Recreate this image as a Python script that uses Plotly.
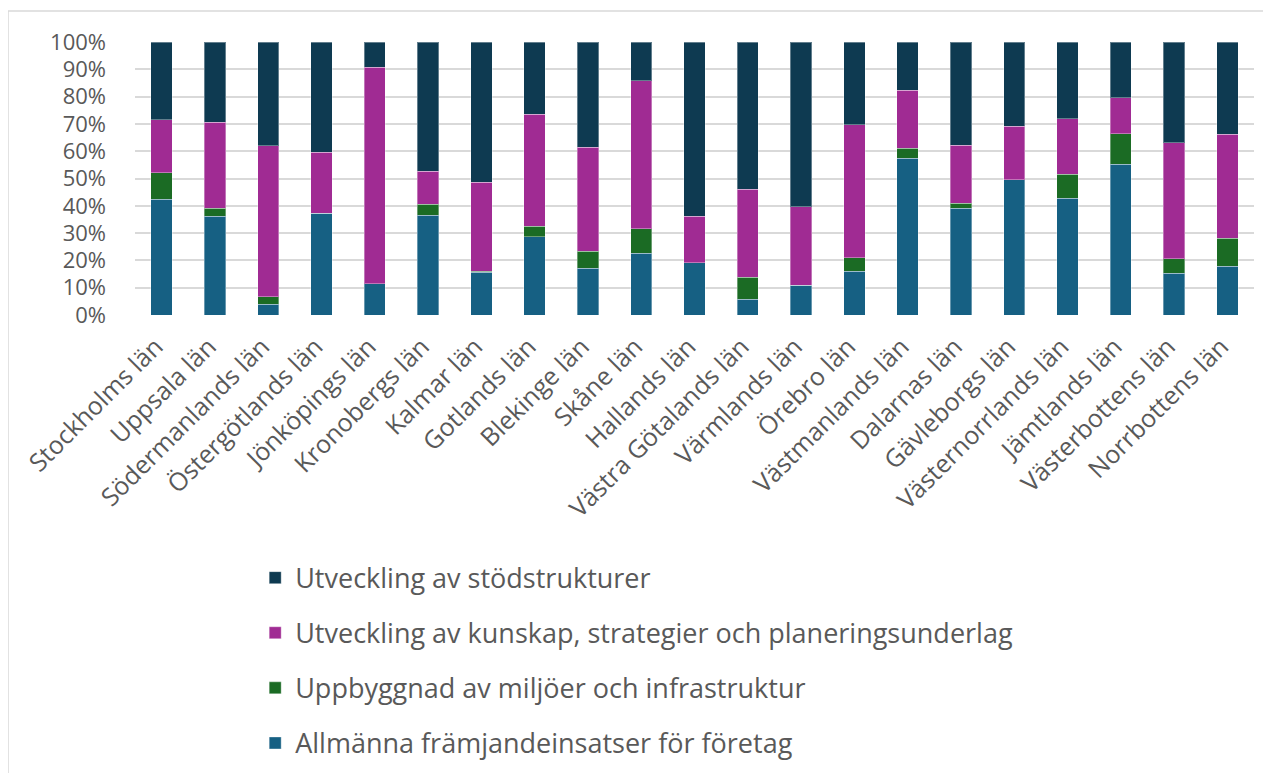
import plotly.graph_objects as go

categories = ["Stockholms län", "Uppsala län", "Södermanlands län", "Östergötlands län",
              "Jönköpings län", "Kronobergs län", "Kalmar län", "Gotlands län",
              "Blekinge län", "Skåne län", "Hallands län", "Västra Götalands län",
              "Värmlands län", "Örebro län", "Västmanlands län", "Dalarnas län",
              "Gävleborgs län", "Västernorrlands län", "Jämtlands län",
              "Västerbottens län", "Norrbottens län"]

# shares in percent
allmanna = [42.4, 36.1, 3.9, 37.2, 11.5, 36.6, 15.6, 28.7, 17.2, 22.7, 19.2,
            5.7, 10.9, 16.0, 57.4, 39.1, 49.5, 42.7, 55.3, 15.3, 17.8]
uppbyggnad = [9.7, 3.0, 2.8, 0.0, 0.0, 3.9, 0.5, 3.8, 6.1, 8.9, 0.0,
              8.1, 0.0, 5.0, 3.7, 1.8, 0.0, 8.8, 11.1, 5.3, 10.3]
kunskap = [19.4, 31.5, 55.3, 22.4, 79.3, 12.2, 32.6, 41.1, 38.2, 54.2, 16.9,
           32.2, 28.7, 48.6, 21.2, 21.2, 19.6, 20.3, 13.1, 42.5, 38.1]
stod = [28.5, 29.4, 38.0, 40.4, 9.2, 47.3, 51.3, 26.4, 38.5, 14.2, 63.9,
        54.0, 60.4, 30.4, 17.7, 37.9, 30.9, 28.2, 20.5, 36.9, 33.8]

series_names = ["Allmänna främjandeinsatser för företag",
                "Uppbyggnad av miljöer och infrastruktur",
                "Utveckling av kunskap, strategier och planeringsunderlag",
                "Utveckling av stödstrukturer"]
series_values = [allmanna, uppbyggnad, kunskap, stod]
series_colors = ["#166083", "#1B6B24", "#A02B93", "#0E3A51"]
legend_ranks = [4, 3, 2, 1]

FONT = "Open Sans"
TXT = "#595959"

fig = go.Figure()
for i, (name, vals, col, rk) in enumerate(zip(series_names, series_values,
                                               series_colors, legend_ranks)):
    fig.add_trace(go.Bar(
        x=categories, y=[v / 100 for v in vals], name=name,
        marker=dict(color=col, line=dict(color="rgba(255,255,255,0.35)", width=1)),
        legendgroup=f"g{i}", legendrank=rk,
    ))

fig.update_layout(
    width=1271, height=773,
    barmode="stack",
    bargap=0.6,
    paper_bgcolor="white", plot_bgcolor="white",
    margin=dict(l=127, r=25, t=34, b=466, autoexpand=False),
    font=dict(family=FONT, color=TXT),
    showlegend=True,
    legend=dict(
        orientation="v", traceorder="grouped",
        x=0.1074, xanchor="left", y=-0.874, yanchor="top",
        font=dict(family=FONT, size=27, color=TXT),
        tracegroupgap=17, bgcolor="rgba(0,0,0,0)",
    ),
    xaxis=dict(
        tickangle=-45, tickfont=dict(family=FONT, size=25, color=TXT),
        showgrid=False, showline=False, zeroline=False, ticks="",
        ticklabelstandoff=11, ticklabelshift=-6,
    ),
    yaxis=dict(
        range=[0, 1], tickformat=".0%", dtick=0.1,
        tickfont=dict(family=FONT, size=22, color=TXT),
        showgrid=True, gridcolor="#D9D9D9", gridwidth=1.5,
        zeroline=False, showline=False, ticks="", ticklabelstandoff=28,
    ),
    shapes=[dict(type="rect", xref="paper", yref="paper",
                 x0=-0.1135, x1=1.2, y0=-2.5, y1=1.1136,
                 line=dict(color="#D9D9D9", width=1.5), fillcolor="rgba(0,0,0,0)",
                 layer="below")],
)

fig.write_html("out.html")
